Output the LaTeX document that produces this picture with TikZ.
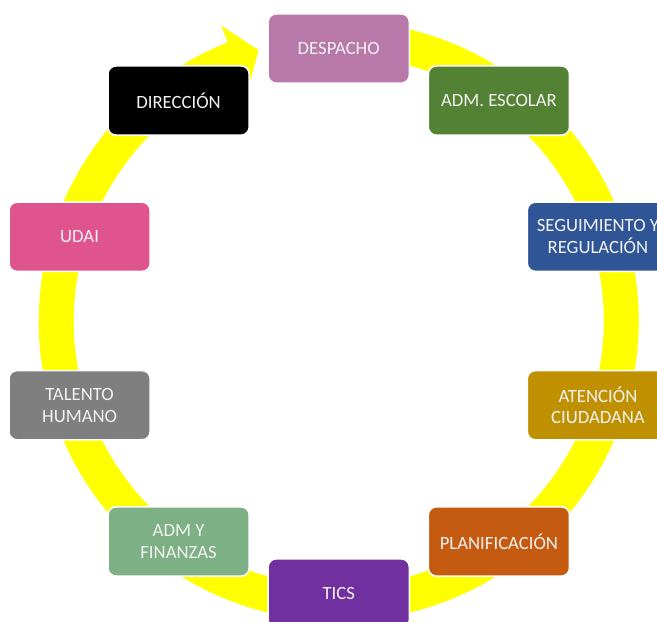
\documentclass[tikz,border=0pt]{standalone}
\usepackage{fontspec}
\setmainfont{Carlito}
\usepackage{tikz}
\definecolor{ringyellow}{HTML}{FFFF00}
\definecolor{boxtext}{HTML}{F2F2F2}
\definecolor{color1}{HTML}{B878A9}
\definecolor{color2}{HTML}{548235}
\definecolor{color3}{HTML}{2F5597}
\definecolor{color4}{HTML}{BF9000}
\definecolor{color5}{HTML}{C55A11}
\definecolor{color6}{HTML}{7030A0}
\definecolor{color7}{HTML}{7EB085}
\definecolor{color8}{HTML}{7F7F7F}
\definecolor{color9}{HTML}{E0548E}
\definecolor{color10}{HTML}{000000}
\newcommand{\boxwidth}{3.53}
\newcommand{\boxheight}{1.73}
\newcommand{\boxradius}{272.5}
\tikzset{%
  unitbox/.style={rectangle, rounded corners=0.2cm, draw=white, line width=0.04cm,
    minimum width=\boxwidth cm, minimum height=\boxheight cm, inner sep=0,
    align=center, text=boxtext, font=\fontsize{13.3pt}{15.4pt}\selectfont}
}

\begin{document}
\begin{tikzpicture}[x=0.025cm, y=0.025cm]

\clip (-338.75,-301) rectangle (318.25,321);

% cycle arrow
\fill[ringyellow] (85:300) arc[start angle=85, end angle=-248.3, radius=300]
  -- (111.7:318) -- (106.5:282.5) -- (111.7:247) -- (111.7:265)
  arc[start angle=-248.3, end angle=85, radius=265] -- cycle;

\node (despacho) at (90:\boxradius) [unitbox, fill=color1] {DESPACHO};
\node (admescolar) at (54:\boxradius) [unitbox, fill=color2] {ADM. ESCOLAR};
\node (seguimiento) at (18:\boxradius) [unitbox, fill=color3] {SEGUIMIENTO Y\\REGULACIÓN};
\node (atencion) at (-18:\boxradius) [unitbox, fill=color4] {ATENCIÓN\\CIUDADANA};
\node (planificacion) at (-54:\boxradius) [unitbox, fill=color5] {PLANIFICACIÓN};
\node (tics) at (-90:\boxradius) [unitbox, fill=color6] {TICS};
\node (finanzas) at (-126:\boxradius) [unitbox, fill=color7] {ADM Y\\FINANZAS};
\node (talento) at (-162:\boxradius) [unitbox, fill=color8] {TALENTO\\HUMANO};
\node (udai) at (162:\boxradius) [unitbox, fill=color9] {UDAI};
\node (direccion) at (126:\boxradius) [unitbox, fill=color10] {DIRECCIÓN};

\end{tikzpicture}
\end{document}
